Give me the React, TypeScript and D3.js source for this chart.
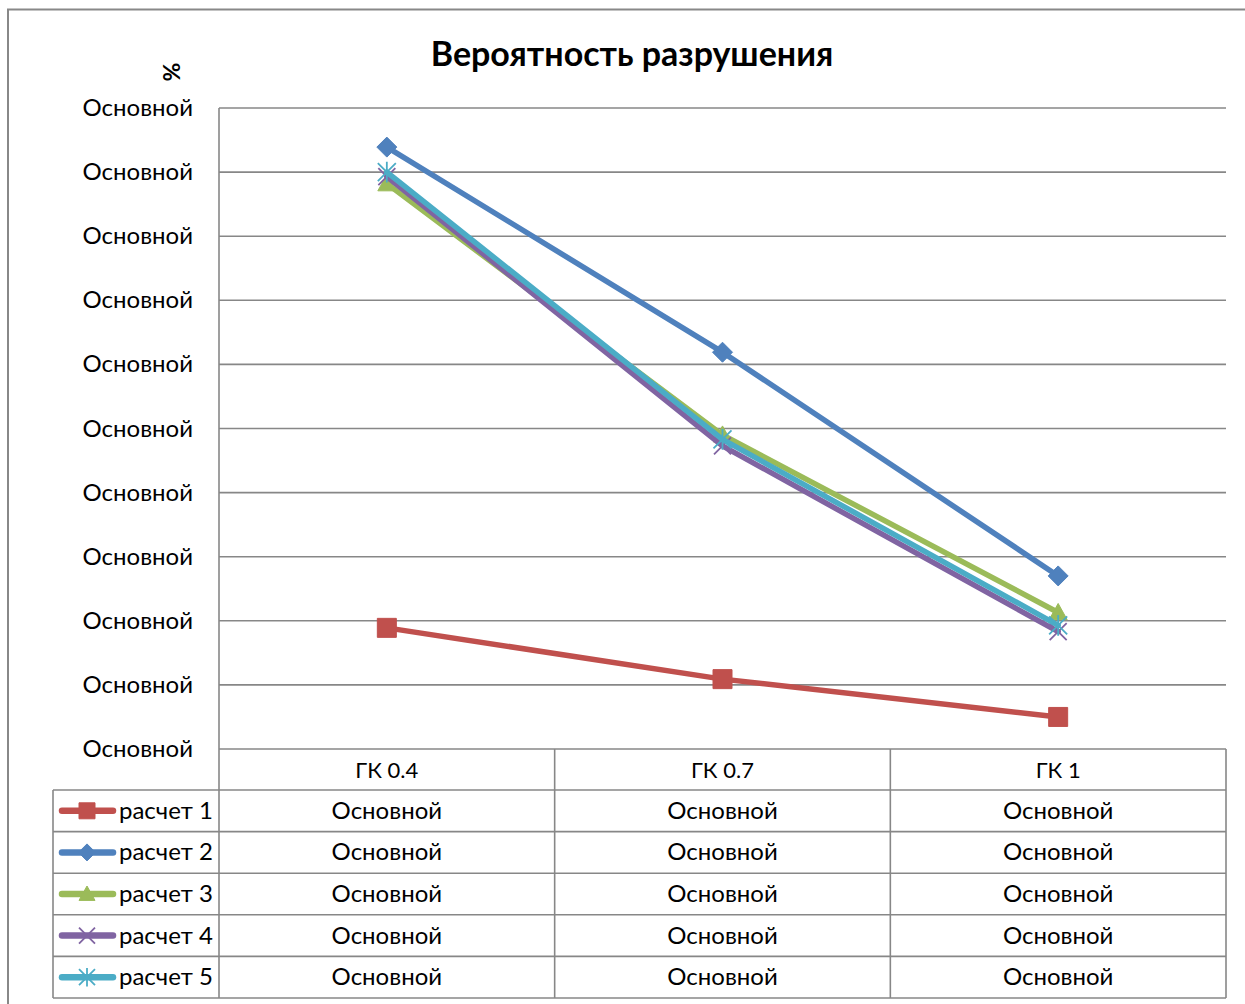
import React from "react";
import * as d3 from "d3";

const categories = ["ГК 0.4", "ГК 0.7", "ГК 1"];
const seriesNames = ["расчет 1", "расчет 2", "расчет 3", "расчет 4", "расчет 5"];
const seriesColors = ["#C0504D", "#4F81BD", "#9BBB59", "#8064A2", "#4BACC6"];
const seriesMarkers = ["square", "diamond", "triangle", "x", "star"];
const values1 = [1.89, 1.09, 0.5];
const values2 = [9.39, 6.19, 2.7];
const values3 = [8.82, 4.9, 2.13];
const values4 = [8.93, 4.73, 1.83];
const values5 = [9.0, 4.83, 1.93];
const seriesValues = [values1, values2, values3, values4, values5];
const yTicks = [0, 1, 2, 3, 4, 5, 6, 7, 8, 9, 10];
const tickLabel = "Основной";
const title = "Вероятность разрушения";
const yTitle = "%";

const FONT = "Lato, 'Open Sans', sans-serif";
const GRID = "#878787";
const FS = 24;

function markerPath(kind: string, s: number): string {
  const h = s / 2;
  switch (kind) {
    case "square":
      return `M${-h},${-h}H${h}V${h}H${-h}Z`;
    case "diamond":
      return `M0,${-h}L${h},0L0,${h}L${-h},0Z`;
    case "triangle":
      return `M0,${-h}L${h},${h * 0.8}L${-h},${h * 0.8}Z`;
    case "x":
      return `M${-h},${-h}L${h},${h}M${h},${-h}L${-h},${h}`;
    default:
      return `M${-h},${-h}L${h},${h}M${h},${-h}L${-h},${h}M0,${-h * 1.15}V${h * 1.15}`;
  }
}

function Marker({ kind, color, x, y, s }: { kind: string; color: string; x: number; y: number; s: number }) {
  const stroked = kind === "x" || kind === "star";
  return (
    <path
      d={markerPath(kind, s)}
      transform={`translate(${x},${y})`}
      fill={stroked ? "none" : color}
      stroke={color}
      strokeWidth={stroked ? 1.8 : 1}
      strokeLinejoin="round"
    />
  );
}

export default function App() {
  const left = 219;
  const right = 1226;
  const top = 108;
  const bottom = 749;
  const x = d3.scaleBand<string>().domain(categories).range([left, right]);
  const y = d3.scaleLinear().domain([0, 10]).range([bottom, top]);
  const cx = (c: string) => (x(c) as number) + x.bandwidth() / 2;
  const line = d3
    .line<number>()
    .x((_, i) => cx(categories[i]))
    .y((v) => y(v));

  const headerBottom = 790;
  const rowH = 41.6;
  const tableBottom = headerBottom + rowH * seriesNames.length;
  const legendLeft = 53;

  const markerSizes: Record<string, number> = { square: 19, diamond: 20, triangle: 18, x: 17, star: 18 };
  const legendSizes: Record<string, number> = { square: 16, diamond: 17, triangle: 16, x: 16, star: 16 };

  return (
    <svg
      width={1245}
      height={1004}
      style={{ position: "absolute", left: 0, top: 0, background: "#fff" }}
      fontFamily={FONT}
    >
      {/* outer chart border */}
      <path d={`M8,1010V9.5H1250`} fill="none" stroke="#888" strokeWidth={2} />

      <text x={632} y={66} textAnchor="middle" fontSize={34} fontWeight="bold" fill="#000">
        {title}
      </text>
      <text
        transform={`translate(180,72) rotate(-90)`}
        textAnchor="middle"
        fontSize={23}
        fontWeight="bold"
        fill="#000"
      >
        {yTitle}
      </text>

      {/* gridlines */}
      {yTicks.map((t) => (
        <line key={t} x1={left} x2={right} y1={y(t)} y2={y(t)} stroke={GRID} strokeWidth={1.6} />
      ))}
      {yTicks.map((t) => (
        <text key={"l" + t} x={193} y={y(t) + 8} textAnchor="end" fontSize={FS} fill="#000">
          {tickLabel}
        </text>
      ))}

      {/* table lines */}
      <line x1={left} x2={left} y1={top} y2={tableBottom} stroke={GRID} strokeWidth={1.6} />
      {categories.map((c) => (
        <line
          key={"v" + c}
          x1={(x(c) as number) + x.bandwidth()}
          x2={(x(c) as number) + x.bandwidth()}
          y1={bottom}
          y2={tableBottom}
          stroke={GRID}
          strokeWidth={1.6}
        />
      ))}
      <line x1={legendLeft} x2={legendLeft} y1={headerBottom} y2={tableBottom} stroke={GRID} strokeWidth={1.6} />
      {d3.range(seriesNames.length + 1).map((i) => (
        <line
          key={"h" + i}
          x1={legendLeft}
          x2={right}
          y1={headerBottom + i * rowH}
          y2={headerBottom + i * rowH}
          stroke={GRID}
          strokeWidth={1.6}
        />
      ))}

      {categories.map((c) => (
        <text key={"c" + c} x={cx(c)} y={778} textAnchor="middle" fontSize={22} fill="#000">
          {c}
        </text>
      ))}

      {seriesNames.map((name, si) => {
        const ry = headerBottom + si * rowH + rowH / 2;
        return (
          <g key={"row" + name}>
            <line
              x1={62}
              x2={113}
              y1={ry}
              y2={ry}
              stroke={seriesColors[si]}
              strokeWidth={6.5}
              strokeLinecap="round"
            />
            <Marker kind={seriesMarkers[si]} color={seriesColors[si]} x={87} y={ry} s={legendSizes[seriesMarkers[si]]} />
            <text x={119} y={ry + 8} fontSize={FS} fill="#000">
              {name}
            </text>
            {categories.map((c) => (
              <text key={c} x={cx(c)} y={ry + 8} textAnchor="middle" fontSize={FS} fill="#000">
                {tickLabel}
              </text>
            ))}
          </g>
        );
      })}

      {/* series */}
      {seriesValues.map((vals, si) => (
        <g key={"s" + si}>
          <path
            d={line(vals) as string}
            fill="none"
            stroke={seriesColors[si]}
            strokeWidth={5.5}
            strokeLinejoin="round"
            strokeLinecap="round"
          />
          {vals.map((v, i) => (
            <Marker
              key={i}
              kind={seriesMarkers[si]}
              color={seriesColors[si]}
              x={cx(categories[i])}
              y={y(v)}
              s={markerSizes[seriesMarkers[si]]}
            />
          ))}
        </g>
      ))}
    </svg>
  );
}
